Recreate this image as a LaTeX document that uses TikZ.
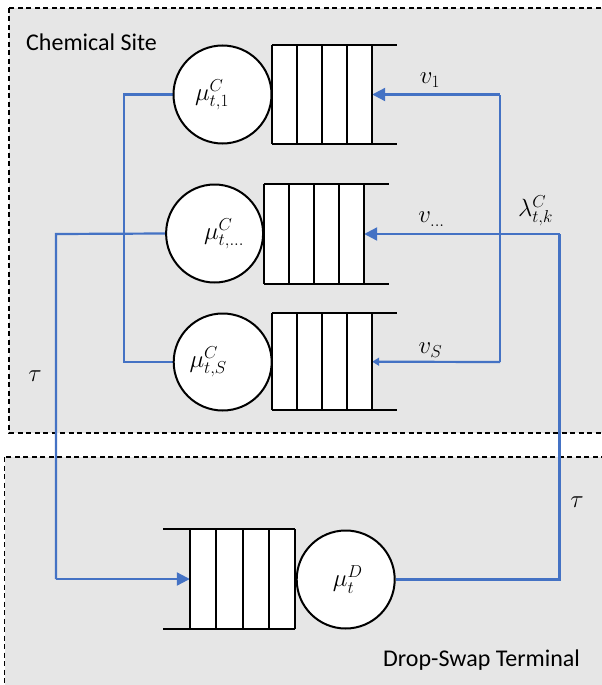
\documentclass[tikz,border=0pt]{standalone}
\usepackage{fontspec}
\setmainfont{Carlito}
\usetikzlibrary{shapes.geometric,arrows.meta}
\definecolor{flowblue}{HTML}{4472C4}
\definecolor{sitegray}{HTML}{E6E6E6}
\pgfdeclarelayer{sites}
\pgfdeclarelayer{flows}
\pgfsetlayers{sites,flows,main}

\begin{document}
\begin{tikzpicture}[x=1pt,y=-1pt,
  region/.style={draw=black, fill=sitegray, dash pattern=on 5pt off 3.5pt, line width=1.1pt},
  server/.style={ellipse, draw=black, fill=white, line width=2pt,
    minimum width=98pt, minimum height=98pt, inner sep=0pt,
    font=\fontsize{25}{29}\selectfont},
  qbox/.style={rectangle, fill=white, minimum width=100pt, minimum height=99pt, inner sep=0pt},
  qline/.style={draw=black, line width=2pt},
  flow/.style={draw=flowblue, line width=2.2pt},
  bigtip/.style={-{Triangle[length=13pt,width=13pt]}},
  smalltip/.style={-{Triangle[length=7pt,width=8pt]}},
  rate/.style={font=\fontsize{25}{29}\selectfont, inner sep=0pt},
  caption/.style={font=\fontsize{24}{29}\selectfont, inner sep=0pt, anchor=west}
]
\useasboundingbox (0,0) rectangle (602,685);
\clip (0,0) rectangle (602,685);

% the two sites
\begin{pgfonlayer}{sites}
\fill[white] (0,0) rectangle (602,685);
\path[region] (9,8) rectangle (615,433);
\path[region] (4.6,457) rectangle (615,700);
\end{pgfonlayer}

\node[caption] (chemlabel) at (26,42) {Chemical Site};
\node[caption] (dslabel) at (383,660) {Drop-Swap Terminal};

% queues (nodes give the white cells; lines drawn afterwards)
\node[qbox] (q1) at (322,94.5) {};
\node[qbox] (q2) at (314,234) {};
\node[qbox, minimum height=97pt] (qS) at (322,361.7) {};
\node[qbox, minimum width=105pt] (qD) at (242.5,579) {};

% servers with their service rates
\node[server] (c1) at (222.5,94.5) {$\mu^C_{t,1}$\kern21pt};
\node[server, minimum width=97pt] (c2) at (214.6,233.5) {\kern19pt$\mu^C_{t,\ldots}$};
\node[server, minimum height=97pt] (cS) at (222.7,362) {$\mu^C_{t,S}$\kern29pt};
\node[server] (cD) at (345.7,579.5) {\kern4pt$\mu^D_t$};

% routing points
\coordinate (r1) at (500,94.5);
\coordinate (rS) at (500,362);
\coordinate (l1) at (123.6,94.5);
\coordinate (lS) at (123.6,362);
\coordinate (m2) at (559.5,234);
\coordinate (mD) at (559.5,579.5);
\coordinate (w2) at (56,234);
\coordinate (wD) at (56,579);

\begin{pgfonlayer}{flows}
% flows at the chemical site
\draw[flow] (c1.west) -- (l1) -- (lS) -- (cS.west);
\draw[flow] (rS) -- (r1);
\draw[flow, bigtip] (r1) -- (q1.east);
\draw[flow, smalltip] (rS) -- (qS.east);
% flows between the sites
\draw[flow, bigtip] (m2) -- (q2.east);
\draw[flow] (cD.east) -- (mD) -- (m2);
\draw[flow] (c2.west) -- (w2) -- (wD);
\draw[flow, bigtip] (wD) -- (qD.west);
\end{pgfonlayer}

% queue outlines: four cells, open at the far end
\foreach \q in {q1,q2,qS}{
  \foreach \k in {0,25,50,75,100}
    \draw[qline] ([xshift=\k]\q.north west) -- ([xshift=\k]\q.south west);
  \draw[qline] (\q.north west) -- ([xshift=125.5]\q.north west);
  \draw[qline] (\q.south west) -- ([xshift=125.5]\q.south west);
}
\foreach \k in {0,26.25,52.5,78.75,105}
  \draw[qline] ([xshift=-\k]qD.north east) -- ([xshift=-\k]qD.south east);
\draw[qline] (qD.north east) -- ([xshift=-132]qD.north east);
\draw[qline] (qD.south east) -- ([xshift=-132]qD.south east);

% arrival rates and travel times
\node[rate] (nu1) at (430,80) {$v_1$};
\node[rate] (nu2) at (431.5,219) {$v_{\ldots}$};
\node[rate] (nuS) at (430.5,350) {$v_S$};
\node[rate] (lam) at (535.5,211) {$\lambda^C_{t,k}$};
\node[rate] (tau1) at (35,376) {$\tau$};
\node[rate] (tau2) at (577,502) {$\tau$};
\end{tikzpicture}
\end{document}
